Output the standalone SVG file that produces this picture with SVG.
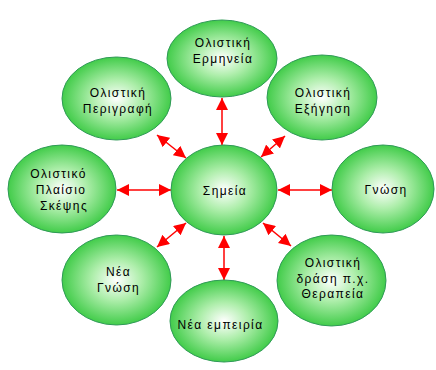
<svg xmlns="http://www.w3.org/2000/svg" width="436" height="370" viewBox="0 0 436 370">
<defs>
<radialGradient id="g" cx="50%" cy="50%" r="50%">
<stop offset="0" stop-color="#ffffff"/>
<stop offset="0.45" stop-color="#aeeeab"/>
<stop offset="1" stop-color="#42cc4a"/>
</radialGradient>
<marker id="ah" viewBox="0 0 12 12" refX="12" refY="6" markerWidth="12" markerHeight="12" markerUnits="userSpaceOnUse" orient="auto-start-reverse">
<path d="M0,0 L12,6 L0,12 Z" fill="#ff0000"/>
</marker>
<style>
.n ellipse{fill:url(#g);stroke:#2f9a57;stroke-width:1}
.n text{font-family:"Liberation Sans",Arial,sans-serif;font-size:12px;letter-spacing:1.4px;fill:#000;text-anchor:middle}
.c line{stroke:#ff0000;stroke-width:1.5;marker-start:url(#ah);marker-end:url(#ah)}
</style>
</defs>
<rect width="436" height="370" fill="#ffffff"/>
<g id="connectors" class="c">
<line x1="222" y1="98" x2="222" y2="145"/>
<line x1="117" y1="190" x2="171" y2="190"/>
<line x1="278" y1="190" x2="332" y2="190"/>
<line x1="224" y1="236" x2="224" y2="280"/>
<line x1="157" y1="135" x2="186" y2="158"/>
<line x1="285" y1="136" x2="261" y2="157"/>
<line x1="186" y1="223" x2="157" y2="247"/>
<line x1="263" y1="223" x2="291" y2="246"/>
</g>
<g id="node-center" class="n"><ellipse cx="224" cy="190" rx="53" ry="45"/><text x="225" y="195">Σημεία</text></g>
<g id="node-ermineia" class="n"><ellipse cx="222" cy="58.5" rx="55" ry="38.5"/><text x="223" y="47">Ολιστική</text><text x="223" y="63">Ερμηνεία</text></g>
<g id="node-perigrafi" class="n"><ellipse cx="116.5" cy="98.5" rx="54.5" ry="41.5"/><text x="118" y="97">Ολιστική</text><text x="118" y="113">Περιγραφή</text></g>
<g id="node-exigisi" class="n"><ellipse cx="322" cy="97.5" rx="55" ry="42.5"/><text x="323" y="97">Ολιστική</text><text x="323" y="113">Εξήγηση</text></g>
<g id="node-gnosi" class="n"><ellipse cx="383" cy="189" rx="51" ry="44"/><text x="386" y="194">Γνώση</text></g>
<g id="node-plaisio" class="n"><ellipse cx="62" cy="189" rx="54" ry="44"/><text x="58.5" y="178">Ολιστικό</text><text x="61" y="194">Πλαίσιο</text><text x="64" y="210">Σκέψης</text></g>
<g id="node-nea-gnosi" class="n"><ellipse cx="116.5" cy="280" rx="54.5" ry="45"/><text x="118.5" y="276">Νέα</text><text x="118.5" y="292">Γνώση</text></g>
<g id="node-nea-empeiria" class="n"><ellipse cx="224" cy="321" rx="54" ry="41"/><text x="220.5" y="329">Νέα εμπειρία</text></g>
<g id="node-therapeia" class="n"><ellipse cx="331.5" cy="280.5" rx="54.5" ry="45.5"/><text x="333" y="267">Ολιστική</text><text x="333" y="283">δράση π.χ.</text><text x="333" y="298">Θεραπεία</text></g>
</svg>
